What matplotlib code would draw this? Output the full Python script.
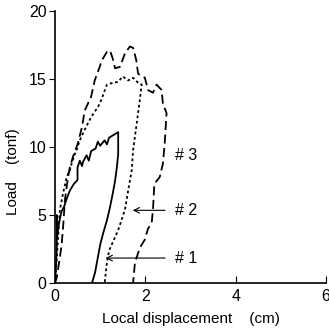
import matplotlib.pyplot as plt

plt.rcParams['font.family'] = ['Liberation Sans', 'DejaVu Sans']

# specimen #1 (solid)
x1 = [0, 0.02, 0.04, 0.04, 0.05, 0.08, 0.12, 0.15, 0.2, 0.26, 0.33, 0.42, 0.48, 0.5, 0.5, 0.55, 0.6, 0.62,
      0.7, 0.75, 0.8, 0.9, 0.95, 1.0, 1.1, 1.15, 1.2, 1.3, 1.4, 1.4, 1.37, 1.33, 1.28, 1.22, 1.15, 1.07, 1.0, 0.95, 0.89, 0.82]
y1 = [0, 1.0, 2.6, 5.0, 3.4, 4.2, 4.9, 5.3, 5.6, 6.2, 6.8, 7.3, 7.5, 7.6, 8.5, 9.0, 8.6, 8.9,
      9.4, 9.0, 9.7, 9.9, 10.4, 10.1, 10.5, 10.2, 10.7, 10.9, 11.1, 9.5, 8.5, 7.5, 6.6, 5.6, 4.6, 3.7, 2.8, 1.9, 0.8, 0]

# specimen #2 (dotted)
x2 = [0, 0.04, 0.07, 0.11, 0.18, 0.26, 0.33, 0.37, 0.44, 0.48, 0.55, 0.66, 0.8, 0.96, 1.03,
      1.15, 1.25, 1.4, 1.5, 1.62, 1.73, 1.85, 1.92, 1.88, 1.8, 1.73, 1.7, 1.62, 1.55, 1.4, 1.2, 1.15, 1.1]
y2 = [0, 1.7, 3.4, 5.4, 6.6, 7.8, 8.3, 8.8, 9.5, 9.8, 10.5, 11.3, 12.2, 13.0, 13.5,
      14.6, 14.7, 14.8, 15.2, 14.9, 15.1, 14.7, 14.6, 13.5, 11.5, 9.8, 8.3, 6.8, 5.4, 3.9, 2.4, 1.5, 0]

# specimen #3 (dashed)
x3 = [0, 0.04, 0.11, 0.15, 0.18, 0.22, 0.29, 0.33, 0.4, 0.51, 0.6, 0.66, 0.73, 0.8, 0.88,
      0.99, 1.04, 1.15, 1.22, 1.28, 1.33, 1.44, 1.55, 1.66, 1.73, 1.8, 1.84, 1.99, 2.06, 2.17,
      2.25, 2.36, 2.39, 2.47, 2.43, 2.39, 2.32, 2.2, 2.17, 2.14, 2.06, 1.99, 1.88, 1.77, 1.73]
y3 = [0, 0.4, 1.9, 2.9, 4.1, 6.1, 7.8, 8.5, 9.3, 10.3, 11.5, 12.7, 13.2, 13.7, 14.9,
      15.9, 16.4, 17.0, 17.1, 16.5, 15.8, 15.9, 16.9, 17.4, 17.3, 16.4, 15.4, 15.1, 14.2, 14.0,
      14.6, 14.2, 13.2, 12.5, 10.3, 8.8, 7.8, 7.3, 5.4, 4.4, 4.0, 3.2, 2.6, 1.5, 0]

xticks = [0, 2, 4, 6]
yticks = [0, 5, 10, 15, 20]

fig = plt.figure(figsize=(3.29, 3.28), dpi=100)
ax = fig.add_axes([0.167, 0.137, 0.824, 0.829])

ax.plot(x1, y1, color='black', lw=1.3, ls='-')
ax.plot(x2, y2, color='black', lw=1.3, ls=(0, (1.5, 1.5)))
ax.plot(x3, y3, color='black', lw=1.3, ls=(0, (5, 2.5)))

ax.text(2.65, 9.4, '# 3', fontsize=11.5, va='center')
ax.text(2.65, 5.35, '# 2', fontsize=11.5, va='center')
ax.text(2.65, 1.8, '# 1', fontsize=11.5, va='center')
ax.annotate('', xy=(1.66, 5.35), xytext=(2.5, 5.35),
            arrowprops=dict(arrowstyle='->', color='black', lw=0.8))
ax.annotate('', xy=(1.06, 1.84), xytext=(2.5, 1.84),
            arrowprops=dict(arrowstyle='->', color='black', lw=0.8))

ax.set_xlim(0, 6)
ax.set_ylim(0, 20)
ax.set_xticks(xticks)
ax.set_yticks(yticks)
ax.spines['top'].set_visible(False)
ax.spines['right'].set_visible(False)
ax.spines['left'].set_linewidth(1.2)
ax.spines['bottom'].set_linewidth(1.2)
ax.tick_params(axis='x', direction='in', length=5, labelsize=11.5, pad=4)
ax.tick_params(axis='y', direction='out', length=4, labelsize=11.5, pad=2)
ax.set_xlabel('Local displacement    (cm)', fontsize=11, labelpad=6)
ax.set_ylabel('Load    (tonf)', fontsize=11)
ax.yaxis.set_label_coords(-0.13, 0.41)

fig.savefig('out.png', dpi=100)
